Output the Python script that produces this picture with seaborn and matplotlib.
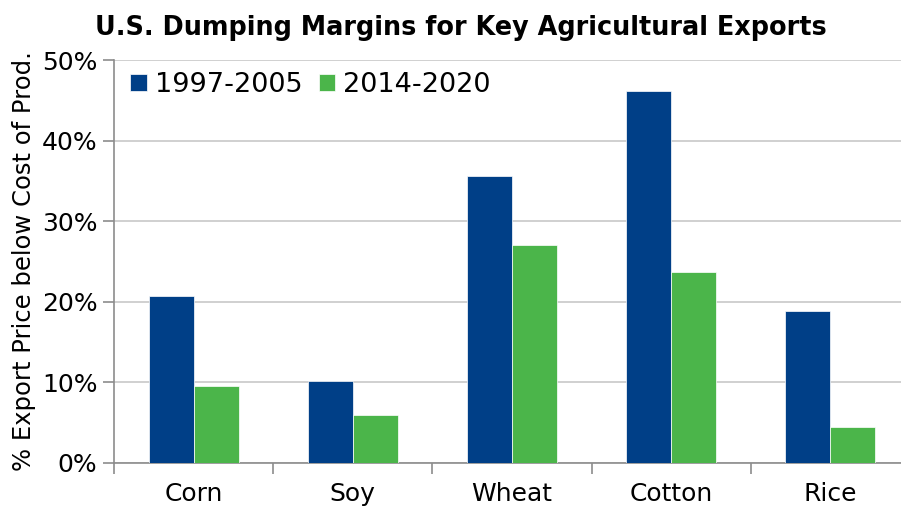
import matplotlib
matplotlib.use("Agg")
import matplotlib.pyplot as plt
import seaborn as sns
import pandas as pd
from matplotlib.ticker import FuncFormatter, FixedLocator

crops = ["Corn", "Soy", "Wheat", "Cotton", "Rice"]
periods = ["1997-2005", "2014-2020"]
margins_1997_2005 = [20.7, 10.2, 35.6, 46.2, 18.8]
margins_2014_2020 = [9.5, 5.9, 27.0, 23.7, 4.5]
y_ticks = [0, 10, 20, 30, 40, 50]

df = pd.DataFrame({
    "crop": crops * 2,
    "period": [periods[0]] * len(crops) + [periods[1]] * len(crops),
    "value": margins_1997_2005 + margins_2014_2020,
})

sns.set_theme(style="white")
plt.rcParams["font.family"] = ["DejaVu Sans"]

fig = plt.figure(figsize=(9.01, 5.08), dpi=100)
ax = fig.add_axes([114 / 901, 45 / 508, (901 - 114) / 901, (463 - 60) / 508])

palette = {periods[0]: "#003F87", periods[1]: "#4BB54A"}
sns.barplot(data=df, x="crop", y="value", hue="period", palette=palette,
            width=0.565, edgecolor="white", linewidth=0.5, saturation=1,
            ax=ax, zorder=3)

ax.set_ylim(0, 50)
ax.set_xlim(-0.5, 4.5 - 9 / 159)
ax.set_yticks(y_ticks)
ax.yaxis.set_major_formatter(FuncFormatter(lambda v, p: f"{v:.0f}%"))
ax.grid(axis="y", color="#c8c8c8", linewidth=1.2, zorder=0)
ax.set_axisbelow(True)

# category boundary ticks on the x axis
ax.xaxis.set_minor_locator(FixedLocator([i - 0.5 for i in range(len(crops) + 1)]))
ax.tick_params(axis="x", which="major", length=0, pad=14, labelsize=18, labelcolor="black")
ax.tick_params(axis="x", which="minor", length=8, width=1.2, color="#8c8c8c", direction="out", bottom=True)
ax.tick_params(axis="y", which="major", length=8, width=1.2, color="#8c8c8c", direction="out",
               left=True, pad=4, labelsize=18, labelcolor="black")

for side in ["top", "right"]:
    ax.spines[side].set_visible(False)
for side in ["left", "bottom"]:
    ax.spines[side].set_color("#8c8c8c")
    ax.spines[side].set_linewidth(1.2)

ax.set_xlabel("")
ax.set_ylabel("% Export Price below Cost of Prod.", fontsize=17.5, color="black", labelpad=4)

leg = ax.legend(loc="upper left", ncol=2, frameon=False, fontsize=19.5,
                handlelength=0.6, handleheight=0.6, handletextpad=0.3,
                columnspacing=0.6, bbox_to_anchor=(0.0, 1.01), borderaxespad=0.2,
                labelcolor="black")

fig.text(0.511, 0.945, "U.S. Dumping Margins for Key Agricultural Exports",
         ha="center", va="center", fontsize=18.4, fontweight="bold", color="black")

fig.savefig("out.png", dpi=100)
